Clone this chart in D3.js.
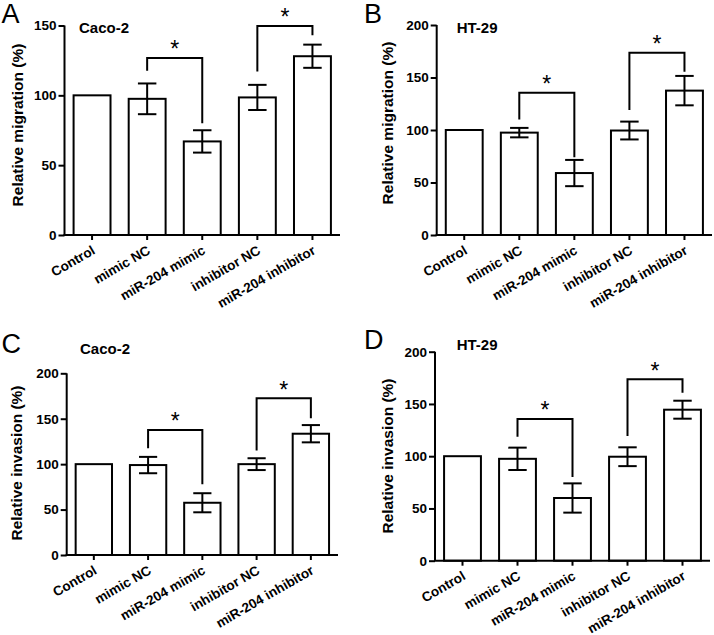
<!DOCTYPE html>
<html><head><meta charset="utf-8">
<script src="https://cdn.jsdelivr.net/npm/d3@7"></script>
<style>
html,body{margin:0;padding:0;background:#fff;}
svg{display:block;font-family:"Liberation Sans",Arial,Helvetica,sans-serif;}
</style></head>
<body>
<svg id="chart" width="714" height="635"></svg>
<script>
// ---- data ----
const categories = ["Control", "mimic NC", "miR-204 mimic", "inhibitor NC", "miR-204 inhibitor"];

const migrationCaco2 = [100, 97.5, 67, 98.5, 128];
const migrationCaco2Err = [0, 11, 8, 9, 8.3];
const migrationHT29 = [100, 97.5, 59, 99.5, 137.5];
const migrationHT29Err = [0, 4.5, 12.5, 8.5, 14];
const invasionCaco2 = [100, 99, 57.5, 100, 133.5];
const invasionCaco2Err = [0, 9, 10.5, 6.5, 9.5];
const invasionHT29 = [100, 97.5, 60, 99.5, 144.5];
const invasionHT29Err = [0, 10.7, 14, 9, 8.6];

const ticksA = [0, 50, 100, 150];
const ticksBCD = [0, 50, 100, 150, 200];

// significance brackets: [fromIndex, toIndex, top value, left leg end, right leg end]
const bracketsA = [[1, 2, 126.7, 117.6, 80], [3, 4, 149.6, 117, 143]];
const bracketsB = [[1, 2, 135.5, 110, 74], [3, 4, 173.6, 119, 155.5]];
const bracketsC = [[1, 2, 137.7, 117.5, 78], [3, 4, 172.6, 115, 150.5]];
const bracketsD = [[1, 2, 135.6, 118.7, 80], [3, 4, 173.6, 119.3, 160.8]];

// ---- layout ----
const panels = [
  {letter: "A", lx: 1.5, ly: 23, title: "Caco-2", tx: 79, ty: 33, ylabel: "Relative migration (%)", labX: 23, labY: 125,
   x0: 64.5, x1: 340, yTop: 25.5, yBot: 235, ymax: 150, ticks: ticksA, vals: migrationCaco2, errs: migrationCaco2Err, brackets: bracketsA},
  {letter: "B", lx: 364, ly: 23, title: "HT-29", tx: 456.7, ty: 33, ylabel: "Relative migration (%)", labX: 393, labY: 123,
   x0: 436.7, x1: 712, yTop: 25, yBot: 235, ymax: 200, ticks: ticksBCD, vals: migrationHT29, errs: migrationHT29Err, brackets: bracketsB},
  {letter: "C", lx: 1.5, ly: 353, title: "Caco-2", tx: 80, ty: 353.5, ylabel: "Relative invasion (%)", labX: 21.5, labY: 463,
   x0: 66.7, x1: 338, yTop: 373.3, yBot: 555, ymax: 200, ticks: ticksBCD, vals: invasionCaco2, errs: invasionCaco2Err, brackets: bracketsC},
  {letter: "D", lx: 364, ly: 348.5, title: "HT-29", tx: 456.7, ty: 349.5, ylabel: "Relative invasion (%)", labX: 393, labY: 456,
   x0: 435, x1: 710, yTop: 351.7, yBot: 560.7, ymax: 200, ticks: ticksBCD, vals: invasionHT29, errs: invasionHT29Err, brackets: bracketsD}
];

const svg = d3.select("#chart");
const LW = 2;

panels.forEach(p => {
  const g = svg.append("g");
  const x = d3.scaleBand().domain(categories).range([p.x0, p.x1]).paddingInner(0.33).paddingOuter(0.165);
  const y = d3.scaleLinear().domain([0, p.ymax]).range([p.yBot, p.yTop]);
  const bw = x.bandwidth();
  const cx = c => x(c) + bw / 2;

  // panel letter
  g.append("text").attr("x", p.lx).attr("y", p.ly).attr("font-size", 27).text(p.letter);
  // title
  g.append("text").attr("x", p.tx).attr("y", p.ty).attr("font-size", 15).attr("font-weight", "bold").text(p.title);
  // y label
  g.append("text").attr("transform", `translate(${p.labX},${p.labY}) rotate(-90)`)
    .attr("text-anchor", "middle").attr("font-size", 15.5).attr("font-weight", "bold").text(p.ylabel);

  // bars
  g.selectAll("rect.bar").data(categories).enter().append("rect")
    .attr("x", c => x(c)).attr("width", bw)
    .attr("y", (c, i) => y(p.vals[i])).attr("height", (c, i) => y(0) - y(p.vals[i]))
    .attr("fill", "#fff").attr("stroke", "#000").attr("stroke-width", LW);

  // error bars
  const capW = bw * 0.5;
  categories.forEach((c, i) => {
    const e = p.errs[i];
    if (!e) return;
    const hi = y(p.vals[i] + e), lo = y(p.vals[i] - e), xc = cx(c);
    g.append("line").attr("x1", xc).attr("x2", xc).attr("y1", hi).attr("y2", lo).attr("stroke", "#000").attr("stroke-width", LW);
    [hi, lo].forEach(yy => g.append("line").attr("x1", xc - capW / 2).attr("x2", xc + capW / 2)
      .attr("y1", yy).attr("y2", yy).attr("stroke", "#000").attr("stroke-width", LW));
  });

  // y axis
  const yAxis = d3.axisLeft(y).tickValues(p.ticks).tickSize(6).tickPadding(2).tickSizeOuter(0);
  const ya = g.append("g").attr("transform", `translate(${p.x0},0)`).call(yAxis);
  ya.select(".domain").attr("stroke-width", LW).attr("d", `M0,${y(0)}V${y(p.ymax)}`);
  ya.selectAll(".tick line").attr("stroke-width", LW);
  ya.selectAll(".tick text").attr("font-size", 13.5).attr("font-weight", "bold").attr("font-family", null).attr("fill", "#000");

  // x axis
  const xAxis = d3.axisBottom(x).tickSize(5).tickSizeOuter(0);
  const xa = g.append("g").attr("transform", `translate(0,${p.yBot})`).call(xAxis);
  xa.select(".domain").attr("stroke-width", LW).attr("d", `M${p.x0 - 1},0H${p.x1}`);
  xa.selectAll(".tick line").attr("stroke-width", LW);
  xa.selectAll(".tick text").attr("font-size", 13.5).attr("font-weight", "bold").attr("font-family", null).attr("fill", "#000")
    .attr("text-anchor", "end").attr("dy", null).attr("y", null)
    .attr("transform", "translate(4,18) rotate(-30)");

  // significance brackets
  p.brackets.forEach(b => {
    const xl = cx(categories[b[0]]), xr = cx(categories[b[1]]);
    const yt = y(b[2]);
    g.append("path").attr("d", `M${xl},${y(b[3])}V${yt}H${xr}V${y(b[4])}`)
      .attr("fill", "none").attr("stroke", "#000").attr("stroke-width", LW).attr("stroke-linejoin", "miter");
    g.append("text").attr("x", (xl + xr) / 2).attr("y", yt - 13.5 + 0.56 * 23)
      .attr("text-anchor", "middle").attr("font-size", 23).text("*");
  });
});
</script>
</body></html>
